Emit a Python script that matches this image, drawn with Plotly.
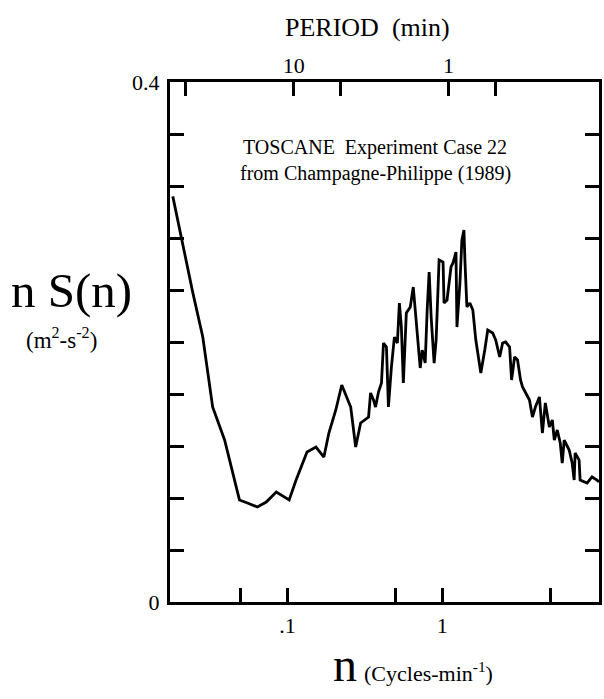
import plotly.graph_objects as go

# frequency n (cycles/min) and n S(n) (m^2 s^-2)
freq = [0.0182, 0.0202, 0.0245, 0.0284, 0.0329, 0.0393, 0.0490, 0.0552, 0.0640, 0.0730,
        0.0847, 0.1026, 0.1137, 0.1338, 0.1528, 0.1719, 0.1851, 0.2052, 0.2242, 0.2561,
        0.2757, 0.2968, 0.334, 0.344, 0.3595, 0.3703, 0.387, 0.4046, 0.4168, 0.4356,
        0.4486, 0.469, 0.4902, 0.5124, 0.5278, 0.5437, 0.560, 0.5853, 0.6207, 0.6489,
        0.6683, 0.6985, 0.7195, 0.7411, 0.7746, 0.7978, 0.8217, 0.8465, 0.8848, 0.9113,
        0.9524, 1.0104, 1.0254, 1.072, 1.137, 1.171, 1.224, 1.242, 1.298, 1.337,
        1.378, 1.398, 1.440, 1.505, 1.573, 1.644, 1.744, 1.771, 1.878, 1.963,
        2.113, 2.209, 2.344, 2.449, 2.560, 2.716, 2.798, 2.924, 3.057, 3.195,
        3.291, 3.440, 3.650, 3.815, 3.987, 4.230, 4.293, 4.421, 4.621, 4.903,
        5.124, 5.278, 5.516, 5.766, 5.938, 6.116, 6.585, 6.883, 7.089, 7.195,
        7.632, 7.746, 8.590, 9.247, 9.954, 10.25]
nsn = [0.312, 0.286, 0.238, 0.204, 0.150, 0.1246, 0.0785, 0.0762, 0.0731, 0.0769,
       0.0846, 0.0785, 0.0938, 0.1154, 0.1192, 0.1115, 0.130, 0.1477, 0.1669, 0.150,
       0.1192, 0.1377, 0.1423, 0.1608, 0.1554, 0.150, 0.1615, 0.1685, 0.1992, 0.1962,
       0.150, 0.1808, 0.2038, 0.1992, 0.230, 0.2115, 0.1685, 0.2223, 0.2269, 0.2423,
       0.2246, 0.1962, 0.180, 0.1938, 0.1838, 0.2246, 0.2538, 0.2192, 0.1838, 0.2015,
       0.2631, 0.2615, 0.230, 0.2323, 0.2577, 0.2608, 0.2692, 0.2115, 0.2454, 0.2785,
       0.2862, 0.2631, 0.2269, 0.230, 0.2246, 0.2015, 0.1808, 0.1762, 0.1938, 0.2092,
       0.2069, 0.2015, 0.1885, 0.1992, 0.200, 0.1962, 0.1708, 0.1885, 0.1862, 0.1708,
       0.1654, 0.1615, 0.1554, 0.1423, 0.150, 0.1577, 0.1454, 0.130, 0.1531, 0.1346,
       0.140, 0.1246, 0.1323, 0.1223, 0.1069, 0.1246, 0.1169, 0.1069, 0.0938, 0.1146,
       0.1092, 0.0938, 0.0915, 0.0962, 0.0938, 0.0923]

bottom_tickvals = [0.05, 0.1, 0.5, 1, 5]
bottom_ticktext = ["", ".1", "", "1", ""]
# top axis: period (min) -> frequency = 1/period
top_periods = [50, 10, 5, 1, 0.5]
top_ticktext = ["", "10", "", "1", ""]
y_tickvals = [0, 0.04, 0.08, 0.12, 0.16, 0.20, 0.24, 0.28, 0.32, 0.36, 0.40]
y_ticktext = ["0", "", "", "", "", "", "", "", "", "", "0.4"]

SERIF = "Liberation Serif"
fig = go.Figure()
fig.add_trace(go.Scatter(x=freq, y=nsn, mode="lines",
                         line=dict(color="black", width=2.8), showlegend=False,
                         hoverinfo="skip"))
fig.add_trace(go.Scatter(x=[], y=[], xaxis="x2", showlegend=False))

axis_common = dict(ticks="inside", ticklen=14, tickwidth=3, tickcolor="black",
                   showgrid=False, zeroline=False,
                   tickfont=dict(family=SERIF, size=22, color="black"))

fig.update_layout(
    width=604, height=699,
    margin=dict(l=170, r=2, t=82, b=97),
    paper_bgcolor="white", plot_bgcolor="white",
    xaxis=dict(type="log", range=[-1.758, 1.011], tickvals=bottom_tickvals,
               ticktext=bottom_ticktext, showline=True, linewidth=3,
               linecolor="black", mirror=True, ticklabelstandoff=2, **axis_common),
    xaxis2=dict(type="log", range=[-1.798, 0.971], overlaying="x", side="top",
                anchor="y", tickvals=[1 / p for p in top_periods],
                ticktext=top_ticktext, showline=False, ticklabelstandoff=4,
                **axis_common),
    yaxis=dict(range=[0, 0.4], tickvals=y_tickvals, ticktext=y_ticktext,
               showline=True, linewidth=3, linecolor="black", mirror="ticks",
               ticklabelstandoff=3, **axis_common),
)

# positions given in screen pixels, converted to plot-area paper coords
def px(X):
    return (X - 170) / 432

def py(Y):
    return (602 - Y) / 520

ann = [
    dict(text="PERIOD  (min)", x=369, y=28, size=26),
    dict(text="TOSCANE  Experiment Case 22", x=376, y=147, size=20),
    dict(text="from Champagne-Philippe (1989)", x=377, y=173, size=20),
    dict(text="n S(n)", x=71, y=290, size=49),
    dict(text="(m<sup>2</sup>-s<sup>-2</sup>)", x=61, y=338, size=23),
    dict(text="n", x=346, y=664, size=48),
    dict(text="(Cycles-min<sup>-1</sup>)", x=430, y=672, size=22),
]
for a in ann:
    fig.add_annotation(text=a["text"], x=px(a["x"]), y=py(a["y"]),
                       xref="paper", yref="paper", xanchor="center", yanchor="middle",
                       showarrow=False,
                       font=dict(family=SERIF, size=a["size"], color="black"))

fig.write_html(
    "out.html",
    config={"displayModeBar": False},
    post_script="document.body.style.margin='0';"
                "document.body.style.overflow='hidden';"
                "document.documentElement.style.overflow='hidden';",
)
